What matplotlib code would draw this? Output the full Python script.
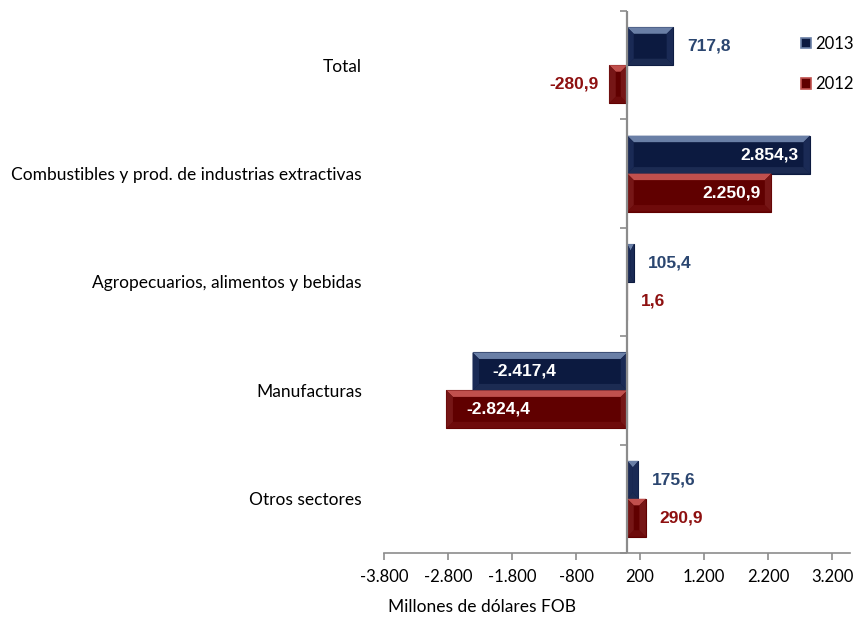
import matplotlib
matplotlib.use("Agg")
import matplotlib.pyplot as plt
from matplotlib.patches import Polygon, Patch
from matplotlib.markers import TICKLEFT
import numpy as np

categories = ["Total",
              "Combustibles y prod. de industrias extractivas",
              "Agropecuarios, alimentos y bebidas",
              "Manufacturas",
              "Otros sectores"]
values_2013 = [717.8, 2854.3, 105.4, -2417.4, 175.6]
values_2012 = [-280.9, 2250.9, 1.6, -2824.4, 290.9]
series_names = ["2013", "2012"]
xticks = [-3800, -2800, -1800, -800, 200, 1200, 2200, 3200]
x_label = "Millones de dólares FOB"

STY = {
    "2013": dict(face="#0c1a40", top="#6a7fa6", bottom="#1c2b52", side="#1a2a55", text="#2b4670"),
    "2012": dict(face="#600000", top="#c0504d", bottom="#6e0b0b", side="#761616", text="#8e1010"),
}

def fmt(v):
    s = f"{abs(v):,.1f}".replace(",", "X").replace(".", ",").replace("X", ".")
    return ("-" if v < 0 else "") + s

W, H = 856, 618
fig = plt.figure(figsize=(W / 100, H / 100), dpi=100)
ax_l, ax_r, ax_t, ax_b = 384, 850, 11, 553
ax = fig.add_axes([ax_l / W, 1 - ax_b / H, (ax_r - ax_l) / W, (ax_b - ax_t) / H])

XMIN, XMAX = -3800, 3480
ax.set_xlim(XMIN, XMAX)
ax.set_ylim(len(categories) - 0.5, -0.5)

px_per_x = (ax_r - ax_l) / (XMAX - XMIN)
px_per_y = (ax_b - ax_t) / len(categories)
bev_px = 6.5
dx_b = bev_px / px_per_x
dy_b = bev_px / px_per_y

bh = 0.35
ypos = np.arange(len(categories))

def bevel_bar(x_val, yc, sty):
    x0, x1 = min(0, x_val), max(0, x_val)
    y0, y1 = yc - bh / 2, yc + bh / 2
    ax.barh(yc, x_val, height=bh, color=sty["face"], edgecolor=sty["face"],
            zorder=2, linewidth=0.8)
    dx = min(dx_b, (x1 - x0) / 2)
    dy = dy_b
    polys = [
        ([(x0, y0), (x1, y0), (x1 - dx, y0 + dy), (x0 + dx, y0 + dy)], sty["top"]),
        ([(x0, y1), (x1, y1), (x1 - dx, y1 - dy), (x0 + dx, y1 - dy)], sty["bottom"]),
        ([(x0, y0), (x0 + dx, y0 + dy), (x0 + dx, y1 - dy), (x0, y1)], sty["side"]),
        ([(x1, y0), (x1 - dx, y0 + dy), (x1 - dx, y1 - dy), (x1, y1)], sty["side"]),
    ]
    for pts, c in polys:
        ax.add_patch(Polygon(pts, closed=True, facecolor=c, edgecolor="none", zorder=3))

val_font = dict(family="Liberation Sans", weight="bold", size=12.5)

for name, vals, off in (("2013", values_2013, -bh / 2), ("2012", values_2012, bh / 2)):
    sty = STY[name]
    for i, v in enumerate(vals):
        yc = ypos[i] + off
        bevel_bar(v, yc, sty)
        if abs(v) > 1000:
            pad = 8 if v > 0 else 14
            ax.annotate(fmt(v), (v, yc), xytext=(-pad if v > 0 else pad, 0),
                        textcoords="offset points", ha="right" if v > 0 else "left",
                        va="center", color="white", zorder=6, **val_font)
        else:
            ax.annotate(fmt(v), (v, yc), xytext=(10 if v >= 0 else -8, 0),
                        textcoords="offset points", ha="left" if v >= 0 else "right",
                        va="center", color=sty["text"], zorder=6, **val_font)

# zero axis line with category-boundary ticks
ax.axvline(0, color="#8c8c8c", lw=1.6, zorder=5)
bounds = np.arange(-0.5, len(categories), 1.0)
ax.plot(np.zeros(len(bounds)), bounds, ls="none", marker=TICKLEFT, ms=5,
        mew=1.2, color="#8c8c8c", clip_on=False, zorder=5)

for s in ("top", "right", "left"):
    ax.spines[s].set_visible(False)
ax.spines["bottom"].set_color("#8c8c8c")
ax.spines["bottom"].set_linewidth(1.2)

ax.set_xticks(xticks)
ax.set_xticklabels([fmt(t).replace(",0", "") for t in xticks])
ax.tick_params(axis="x", direction="out", length=5, width=1.2, color="#8c8c8c",
               pad=6.5, labelsize=12, labelcolor="black")
for lbl in ax.get_xticklabels():
    lbl.set_family("Lato")

ax.set_yticks(ypos)
ax.set_yticklabels(categories)
ax.tick_params(axis="y", length=0, pad=16, labelsize=12.5, labelcolor="black")
for lbl in ax.get_yticklabels():
    lbl.set_family("Lato")

fig.text(482 / W, 1 - 607 / H, x_label, ha="center", va="center",
         fontsize=12.5, family="Lato")

handles = [Patch(facecolor=STY[n]["face"], edgecolor=STY[n]["top"], linewidth=1.2) for n in series_names]
leg = fig.legend(handles, series_names, loc="upper left",
                 bbox_to_anchor=(801 / W, 1 - 36 / H), frameon=False,
                 handlelength=0.6, handleheight=0.6, handletextpad=0.25,
                 labelspacing=1.45, borderpad=0, borderaxespad=0,
                 prop=dict(family="Lato", size=12))

fig.savefig("out.png", dpi=100)
